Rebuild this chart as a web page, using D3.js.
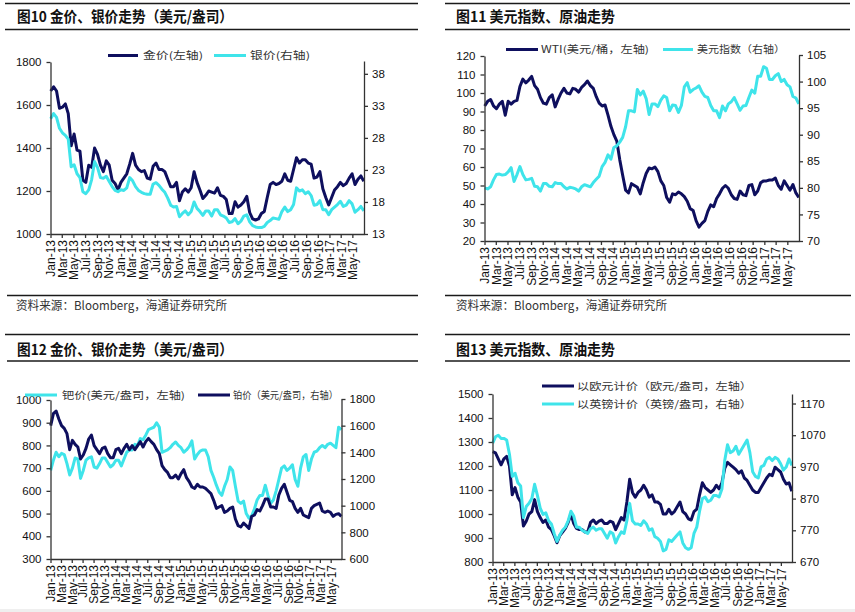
<!DOCTYPE html>
<html><head><meta charset="utf-8">
<script src="https://cdn.jsdelivr.net/npm/d3@7"></script>
<style>body{margin:0;background:#fff}svg{display:block}</style>
</head><body>
<svg id="c" width="855" height="612"></svg>
<script>
// ---------------- DATA ----------------
const tickLabels = ["Jan-13","Mar-13","May-13","Jul-13","Sep-13","Nov-13","Jan-14","Mar-14","May-14","Jul-14","Sep-14","Nov-14",
  "Jan-15","Mar-15","May-15","Jul-15","Sep-15","Nov-15","Jan-16","Mar-16","May-16","Jul-16","Sep-16","Nov-16","Jan-17","Mar-17","May-17"];
const dataStart = "2013-01-02", dataEnd = "2017-06-30";   // two readings per month

const goldUSD = [
 1665,1685, 1665,1585, 1590,1605, 1560,1410, 1465,1390, 1385,1250, 1240,1320, 1310,1400, 1370,1320, 1290,1340, 1320,1250, 1235,1205,
 1240,1260, 1280,1325, 1375,1320, 1300,1290, 1295,1260, 1255,1315, 1330,1300, 1300,1290, 1255,1220, 1220,1240, 1155,1195, 1210,1195,
 1215,1290, 1240,1205, 1165,1180, 1200,1195, 1190,1215, 1180,1175, 1160,1095, 1095,1150, 1125,1135, 1150,1175, 1100,1070, 1065,1070,
 1095,1105, 1170,1230, 1240,1230, 1235,1245, 1280,1250, 1245,1300, 1355,1330, 1345,1345, 1330,1325, 1260,1265, 1290,1210, 1170,1135,
 1170,1205, 1220,1240, 1225,1235, 1260,1280, 1230,1255, 1270,1245];
const silverUSD = [
 31.0,31.8, 31.2,29.5, 28.8,28.4, 27.8,23.5, 23.8,22.4, 21.8,19.6, 19.3,19.9, 21.5,24.3, 23.4,21.8, 21.7,22.0, 21.2,20.4, 19.8,19.6,
 19.9,19.8, 20.2,21.8, 21.3,20.4, 19.8,19.5, 19.3,19.2, 19.2,20.8, 21.0,20.6, 20.0,19.5, 18.6,17.5, 17.2,17.3, 15.7,16.2, 16.6,16.0,
 16.5,18.0, 17.0,16.5, 15.9,16.6, 16.6,15.8, 16.8,16.8, 16.0,15.8, 15.5,14.8, 14.9,15.4, 14.6,15.0, 15.8,16.0, 14.9,14.3, 14.1,14.0,
 14.0,14.2, 14.8,15.1, 15.5,15.4, 15.3,16.5, 17.2,16.5, 16.8,17.6, 20.2,19.7, 19.9,19.3, 19.6,19.0, 17.5,17.6, 18.2,16.8, 16.8,16.0,
 16.8,17.2, 17.6,18.1, 17.3,17.5, 18.2,17.7, 16.4,16.8, 17.3,16.6];
const wti = [
 93.0,95.5, 96.5,93.0, 91.5,94.0, 95.5,88.0, 95.5,94.0, 95.5,96.0, 103.5,107.5, 105.5,107.0, 109.0,104.0, 102.0,97.5, 94.5,94.0, 97.5,99.0,
 92.5,96.5, 100.0,102.5, 100.0,99.5, 102.5,102.0, 100.5,103.0, 104.5,106.5, 104.0,102.5, 98.0,94.5, 93.0,93.5, 88.0,82.0, 77.5,74.0, 64.0,55.5,
 47.5,46.0, 51.0,50.0, 49.0,45.5, 51.5,56.5, 59.5,59.0, 60.0,57.5, 52.5,50.0, 43.5,41.0, 45.5,45.0, 46.5,45.5, 44.0,41.5, 37.5,36.5,
 31.0,27.5, 29.5,31.0, 36.0,39.5, 38.5,43.0, 45.5,48.5, 50.0,48.5, 45.0,43.0, 42.5,47.0, 45.0,44.5, 50.0,50.5, 45.0,47.0, 51.5,52.5,
 52.5,53.0, 53.0,54.0, 50.0,48.0, 52.5,50.0, 47.5,50.5, 46.0,43.5];
const dxy = [
 80.0,79.8, 80.2,81.5, 82.5,82.6, 82.4,82.5, 83.0,83.8, 81.2,82.5, 84.0,82.5, 81.5,81.6, 81.8,80.3, 80.2,79.4, 80.8,80.8, 80.3,80.2,
 81.0,80.8, 80.8,80.2, 79.8,80.1, 80.0,79.8, 79.4,80.2, 80.6,80.4, 80.2,81.0, 81.6,82.2, 84.0,84.8, 86.2,85.4, 87.6,87.9, 88.6,89.5,
 91.5,94.5, 94.5,94.3, 98.5,97.5, 98.2,96.8, 93.8,95.8, 95.8,95.3, 96.5,97.3, 97.0,94.5, 95.6,95.5, 94.2,95.5, 99.0,99.8, 98.0,98.5,
 98.8,99.2, 98.0,97.2, 97.0,95.5, 94.5,94.5, 93.2,95.4, 94.5,95.8, 96.2,97.0, 95.8,94.6, 95.4,95.5, 97.0,98.4, 97.8,101.0, 101.0,102.8,
 102.5,100.4, 100.4,101.1, 101.5,100.0, 100.4,99.4, 99.0,97.2, 96.9,95.8];
const palladium = [
 690,735, 770,750, 765,760, 720,670, 700,745, 740,655, 690,735, 745,750, 705,700, 720,745, 745,725, 705,715,
 735,735, 710,740, 770,780, 780,805, 800,830, 825,845, 870,875, 880,900, 880,770, 775,780, 790,805, 815,800,
 790,770, 780,795, 820,740, 760,775, 780,780, 750,690, 660,625, 595,580, 620,650, 705,690, 620,555, 545,555,
 500,480, 490,520, 560,580, 580,625, 580,545, 560,600, 650,700, 710,690, 700,715, 650,620, 700,750, 760,690,
 740,770, 775,790, 800,790, 805,810, 800,790, 880,870];
const platinum = [
 1600,1690, 1710,1650, 1600,1580, 1540,1420, 1490,1460, 1440,1350, 1380,1430, 1500,1530, 1450,1420, 1390,1430, 1440,1390, 1360,1360,
 1420,1430, 1390,1430, 1460,1420, 1450,1420, 1450,1480, 1440,1480, 1505,1480, 1460,1420, 1390,1300, 1270,1250, 1210,1210, 1230,1200,
 1240,1270, 1210,1180, 1140,1130, 1160,1140, 1140,1130, 1110,1090, 1040,980, 990,1000, 950,960, 980,990, 900,850, 840,870,
 850,830, 920,930, 970,960, 1000,1050, 1050,990, 990,980, 1080,1130, 1160,1100, 1040,1030, 980,950, 980,930, 920,910,
 980,1000, 1010,1020, 960,950, 960,950, 920,935, 940,920];
const goldEUR = [
 1260,1255, 1230,1205, 1230,1240, 1200,1080, 1110,1070, 1050,950, 970,1000, 1010,1060, 1010,985, 965,975, 945,935, 910,880,
 910,925, 940,965, 1000,960, 940,935, 935,925, 925,965, 975,960, 970,975, 960,960, 970,965, 935,960, 985,975,
 1050,1145, 1090,1070, 1090,1100, 1120,1100, 1070,1080, 1050,1050, 1040,1000, 1000,1020, 1000,1010, 1030,1050, 1010,1000, 980,975,
 1010,1020, 1080,1130, 1110,1100, 1090,1100, 1120,1105, 1130,1190, 1215,1205, 1195,1185, 1170,1180, 1150,1140, 1120,1100, 1090,1090,
 1110,1130, 1150,1165, 1160,1195, 1185,1175, 1145,1125, 1130,1095];
const goldGBP = [
 1045,1065, 1070,1060, 1060,1055, 1010,940, 950,920, 910,810, 845,855, 870,915, 880,840, 820,825, 800,790, 760,735,
 755,770, 780,800, 830,815, 780,780, 770,765, 760,775, 780,770, 775,775, 760,745, 765,760, 730,750, 765,760,
 800,855, 800,790, 790,785, 800,790, 770,775, 750,745, 735,705, 710,740, 735,745, 755,765, 730,715, 710,715,
 760,780, 830,870, 875,860, 865,880, 880,875, 900,990, 1040,1015, 1020,1035, 1010,1025, 1040,1055, 1015,955, 940,935,
 970,975, 995,1000, 990,1000, 995,980, 960,970, 995,975];

const goldTicks = [1000,1200,1400,1600,1800], silverTicks = [13,18,23,28,33,38];
const wtiTicks = [20,30,40,50,60,70,80,90,100,110,120], dxyTicks = [70,75,80,85,90,95,100,105];
const pdTicks = [300,400,500,600,700,800,900,1000], ptTicks = [600,800,1000,1200,1400,1600,1800];
const eurTicks = [800,900,1000,1100,1200,1300,1400,1500], gbpTicks = [670,770,870,970,1070,1170];

const titles = ["图10 金价、银价走势（美元/盎司）","图11 美元指数、原油走势","图12 金价、银价走势（美元/盎司）","图13 美元指数、原油走势"];
const sourceText = "资料来源：Bloomberg，海通证券研究所";
const legendNames = [["金价(左轴)","银价(右轴)"],["WTI(美元/桶，左轴)","美元指数（右轴）"],
  ["钯价(美元/盎司，左轴)","铂价（美元/盎司，右轴）"],["以欧元计价（欧元/盎司，左轴）","以英镑计价（英镑/盎司，右轴）"]];

// ---------------- LAYOUT ----------------
const DARK = "#0e0f5e", CYAN = "#3fe4ea";
const CJK = "'Noto Sans CJK SC','Noto Sans',sans-serif";
const LAT = "'Liberation Sans',Arial,sans-serif";
const svg = d3.select("#c");
const parseTick = d3.timeParse("%b-%y");
const parseDay = d3.timeParse("%Y-%m-%d");
const tickDates = tickLabels.map(parseTick);
const t0 = parseDay(dataStart), t1 = parseDay(dataEnd);
const nPts = goldUSD.length;
const dates = d3.range(nPts).map(i => new Date(+t0 + i*(t1 - t0)/(nPts-1)));

const panels = [
 {title:titles[0], tx:17, ty:22, tlen:216, rules:[[5,418,3.5],[5,418,29.5],[7,418,295.5]], src:{x:16,y:310,len:211},
  x0:50.5, x1:364, yTop:62, yBot:234, rTop:61,
  L:{dom:[1000,1800], ticks:goldTicks}, R:{dom:[13,40], ticks:silverTicks},
  series:[{v:goldUSD, ax:"L", c:DARK},{v:silverUSD, ax:"R", c:CYAN}],
  legend:[{a:108,b:138,y:55.5,c:DARK,t:legendNames[0][0],x:143,len:60},{a:214,b:246,y:55.5,c:CYAN,t:legendNames[0][1],x:250,len:60}]},
 {title:titles[1], tx:456, ty:22, tlen:159, rules:[[445,850,3.5],[445,850,29.5],[445,851,295.5]], src:{x:456,y:310,len:211},
  x0:484.5, x1:799, yTop:56, yBot:241, rTop:55,
  L:{dom:[20,120], ticks:wtiTicks}, R:{dom:[70,105], ticks:dxyTicks},
  series:[{v:wti, ax:"L", c:DARK},{v:dxy, ax:"R", c:CYAN}],
  legend:[{a:506,b:538,y:49.5,c:DARK,t:legendNames[1][0],x:541,len:108},{a:663,b:693,y:49.5,c:CYAN,t:legendNames[1][1],x:697,len:88}]},
 {title:titles[2], tx:17, ty:354.5, tlen:216, rules:[[5,418,334.5],[7,418,361]], src:null,
  x0:50.5, x1:341.5, yTop:400, yBot:559, rTop:399,
  L:{dom:[300,1000], ticks:pdTicks}, R:{dom:[600,1800], ticks:ptTicks},
  series:[{v:palladium, ax:"L", c:CYAN},{v:platinum, ax:"R", c:DARK}],
  legend:[{a:25,b:57,y:395,c:CYAN,t:legendNames[2][0],x:62,len:123},{a:198,b:230,y:395,c:DARK,t:legendNames[2][1],x:233,len:105}]},
 {title:titles[3], tx:456, ty:354.5, tlen:159, rules:[[445,850,334.5],[445,850,361]], src:null,
  x0:492.5, x1:792, yTop:394, yBot:562, rTop:394,
  L:{dom:[800,1500], ticks:eurTicks}, R:{dom:[670,1200], ticks:gbpTicks},
  series:[{v:goldEUR, ax:"L", c:DARK},{v:goldGBP, ax:"R", c:CYAN}],
  legend:[{a:542,b:574,y:386,c:DARK,t:legendNames[3][0],x:577,len:175},{a:542,b:574,y:404,c:CYAN,t:legendNames[3][1],x:577,len:175}]}
];

svg.append("rect").attr("x",0).attr("y",609).attr("width",855).attr("height",3).attr("fill","#efefef");

const fmt = d3.timeFormat("%b-%y");
panels.forEach(p => {
  const g = svg.append("g");
  p.rules.forEach(r => g.append("line").attr("x1",r[0]).attr("x2",r[1]).attr("y1",r[2]).attr("y2",r[2])
      .attr("stroke","#1a1a1a").attr("stroke-width",1.3));
  g.append("text").attr("x",p.tx).attr("y",p.ty).text(p.title)
    .attr("font-family",CJK).attr("font-weight","bold").attr("font-size",15).attr("fill","#111")
    .attr("textLength",p.tlen).attr("lengthAdjust","spacingAndGlyphs");
  if (p.src) g.append("text").attr("x",p.src.x).attr("y",p.src.y).text(sourceText)
    .attr("font-family",CJK).attr("font-size",12).attr("fill","#333")
    .attr("textLength",p.src.len).attr("lengthAdjust","spacingAndGlyphs");

  const x = d3.scaleTime().domain([new Date(2013,0,1), new Date(2017,6,1)]).range([p.x0,p.x1]);
  const yL = d3.scaleLinear().domain(p.L.dom).range([p.yBot,p.yTop]);
  const yR = d3.scaleLinear().domain(p.R.dom).range([p.yBot,p.rTop]);

  p.series.forEach(s => {
    const y = s.ax === "L" ? yL : yR;
    const line = d3.line().defined(d => d != null).x((d,i) => x(dates[i])).y(d => y(d));
    g.append("path").datum(s.v).attr("d",line).attr("fill","none").attr("stroke",s.c)
      .attr("stroke-width",3).attr("stroke-linejoin","round");
  });

  const axL = g.append("g").attr("transform",`translate(${p.x0},0)`)
    .call(d3.axisLeft(yL).tickValues(p.L.ticks).tickSize(4).tickSizeOuter(0).tickPadding(5).tickFormat(d3.format("d")));
  const axR = g.append("g").attr("transform",`translate(${p.x1},0)`)
    .call(d3.axisRight(yR).tickValues(p.R.ticks).tickSize(4).tickSizeOuter(0).tickPadding(4).tickFormat(d3.format("d")));
  const axB = g.append("g").attr("transform",`translate(0,${p.yBot})`)
    .call(d3.axisBottom(x).tickValues(tickDates).tickSize(4).tickSizeOuter(0).tickFormat(fmt));
  axB.selectAll("text").attr("transform","rotate(-90)").attr("text-anchor","end")
    .attr("x",-6).attr("y",0).attr("dy","0.36em").attr("font-size",12);
  [axL,axR].forEach(a => a.selectAll("text").attr("font-size",11.5));
  [axL,axR,axB].forEach(a => {
    a.attr("font-family",LAT);
    a.selectAll("path,line").attr("stroke","#333").attr("stroke-width",1.3);
    a.selectAll("text").attr("fill","#111");
  });

  p.legend.forEach(l => {
    g.append("line").attr("x1",l.a).attr("x2",l.b).attr("y1",l.y).attr("y2",l.y)
      .attr("stroke",l.c).attr("stroke-width",3);
    g.append("text").attr("x",l.x).attr("y",l.y+3.5).text(l.t)
      .attr("font-family",CJK).attr("font-size",10).attr("fill","#333")
      .attr("textLength",l.len).attr("lengthAdjust","spacingAndGlyphs");
  });
});
</script>
</body></html>
